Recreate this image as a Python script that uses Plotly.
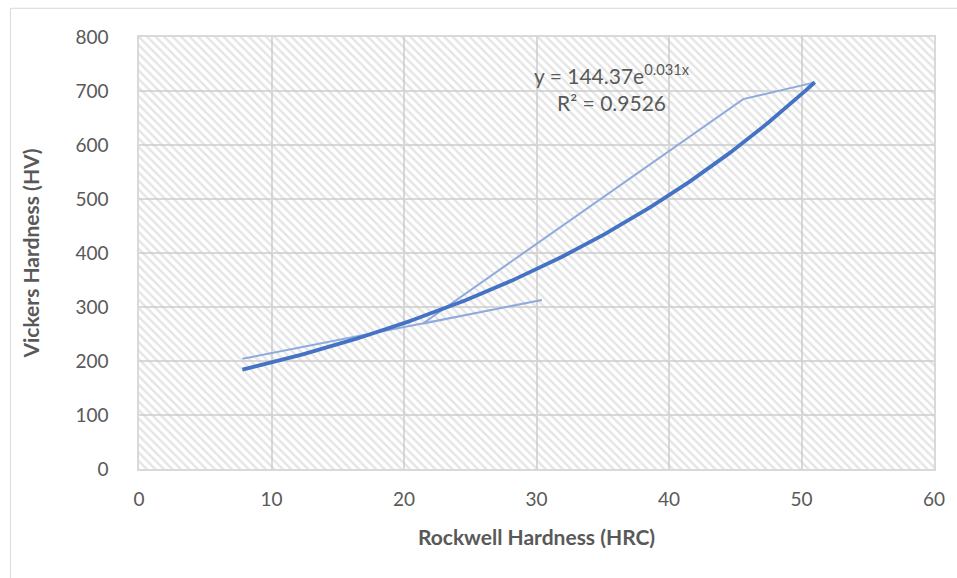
import numpy as np
import plotly.graph_objects as go

# Data (in plotted order)
hrc = [7.8, 30.4, 21.4, 45.6, 51.0]
hv = [204, 313, 269, 685, 716]

x_range = [0, 60]
y_range = [0, 800]
x_ticks = [0, 10, 20, 30, 40, 50, 60]
y_ticks = [0, 100, 200, 300, 400, 500, 600, 700, 800]

eq_label = "y = 144.37e<sup>0.031x</sup>"
r2_label = "R² = 0.9526"

# Exponential trendline (least squares on ln y, as Excel does)
b, ln_a = np.polyfit(np.array(hrc), np.log(np.array(hv)), 1)
a = float(np.exp(ln_a))
xt = np.linspace(min(hrc), max(hrc), 200)
yt = a * np.exp(b * xt)

GRID = "#d9d9d9"
TXT = "#595959"
FONT = "Lato"

fig = go.Figure()

# hatched plot-area background (transparent so gridlines stay visible)
fig.add_trace(go.Scatter(
    x=[x_range[0], x_range[1], x_range[1], x_range[0], x_range[0]],
    y=[y_range[0], y_range[0], y_range[1], y_range[1], y_range[0]],
    mode="lines", line=dict(width=0), fill="toself",
    fillcolor="rgba(0,0,0,0)",
    fillpattern=dict(shape="\\", fgcolor="#cacaca", bgcolor="rgba(0,0,0,0)",
                     size=6, solidity=0.4),
    hoverinfo="skip", showlegend=False,
))

fig.add_trace(go.Scatter(
    x=hrc, y=hv, mode="lines",
    line=dict(color="#8FAADC", width=2),
    showlegend=False,
))

fig.add_trace(go.Scatter(
    x=xt, y=yt, mode="lines",
    line=dict(color="#4472C4", width=3.8),
    showlegend=False,
))

fig.add_annotation(
    x=35.7, y=707, xref="x", yref="y",
    text=f"{eq_label}<br>{r2_label}",
    showarrow=False, align="center",
    font=dict(family=FONT, size=21, color=TXT),
)

# outer chart border
fig.add_shape(type="rect", xref="paper", yref="paper",
              x0=-0.1617, x1=1.04, y0=-0.27, y1=1.0665,
              line=dict(color=GRID, width=1), layer="below")

fig.update_layout(
    width=957, height=578,
    margin=dict(l=139, r=20, t=37, b=109),
    paper_bgcolor="white", plot_bgcolor="white",
    font=dict(family=FONT, color=TXT, size=19),
    showlegend=False,
)
fig.update_xaxes(
    range=x_range, tickvals=x_ticks, showgrid=True, gridcolor=GRID, gridwidth=1.5,
    zeroline=False, showline=True, linecolor=GRID, linewidth=1.5, mirror=True,
    ticklabelstandoff=12, tickfont=dict(size=19, color=TXT),
    title=dict(text="<b>Rockwell Hardness (HRC)</b>", font=dict(size=21, color=TXT), standoff=22),
)
fig.update_yaxes(
    range=y_range, tickvals=y_ticks, showgrid=True, gridcolor=GRID, gridwidth=1.5,
    zeroline=False, showline=True, linecolor=GRID, linewidth=1.5, mirror=True,
    ticklabelstandoff=25, tickfont=dict(size=19, color=TXT),
    title=dict(text="<b>Vickers Hardness (HV)</b>", font=dict(size=21, color=TXT), standoff=30),
)

fig.write_html("out.html")
